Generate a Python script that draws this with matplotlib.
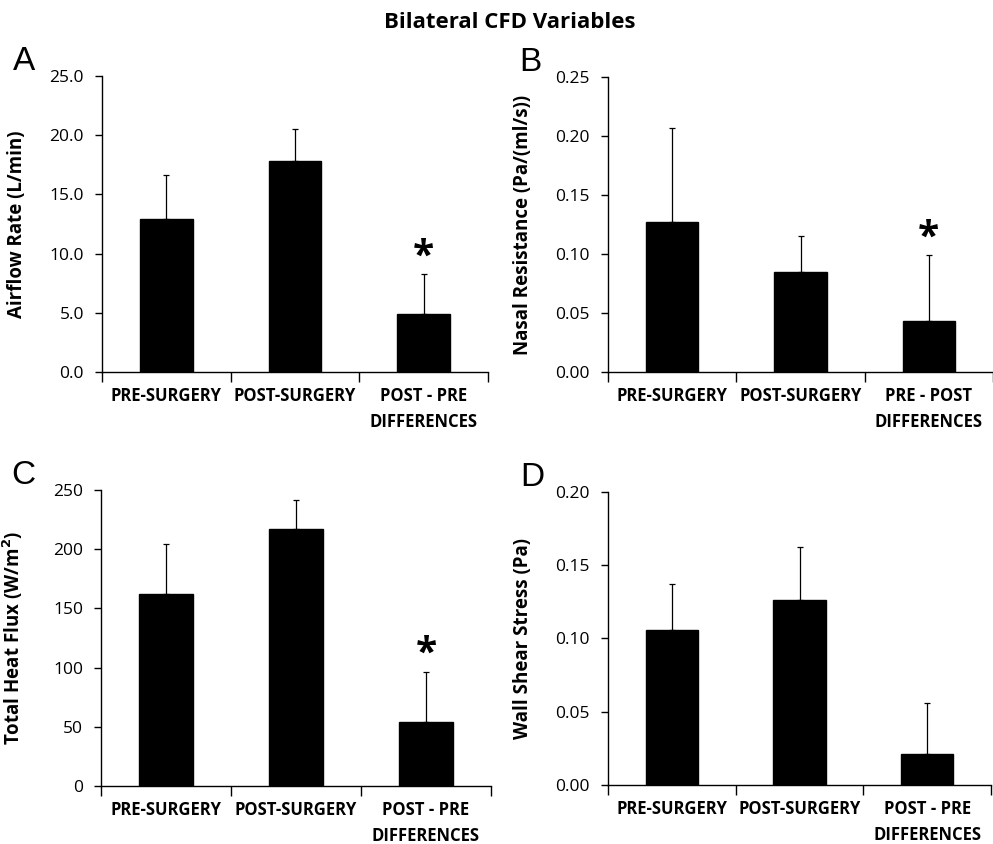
import numpy as np
import matplotlib
matplotlib.use("Agg")
import matplotlib.pyplot as plt
from matplotlib.ticker import FormatStrFormatter, FixedLocator

plt.rcParams['font.family'] = ['Open Sans', 'DejaVu Sans']

# values
cats_a = ["PRE-SURGERY", "POST-SURGERY", "POST - PRE\nDIFFERENCES"]
cats_b = ["PRE-SURGERY", "POST-SURGERY", "PRE - POST\nDIFFERENCES"]

airflow = [12.9, 17.85, 4.9]
airflow_err = [3.7, 2.65, 3.35]

resistance = [0.127, 0.0845, 0.043]
resistance_err = [0.080, 0.031, 0.056]

heatflux = [162.6, 217.0, 54.1]
heatflux_err = [41.5, 24.3, 42.3]

shear = [0.106, 0.1266, 0.0211]
shear_err = [0.0315, 0.036, 0.035]

# which bars get the significance star
stars_a = [False, False, True]
stars_b = [False, False, True]
stars_c = [False, False, True]
stars_d = [False, False, False]

fig = plt.figure(figsize=(9.93, 8.44), dpi=100)

panels = [
    # letter, rect, cats, vals, errs, stars, ylabel, ymax, ystep, fmt
    ("A", [0.1027, 0.5592, 0.3887, 0.3507], cats_a, airflow, airflow_err, stars_a,
     "Airflow Rate (L/min)", 25.0, 5.0, "%.1f"),
    ("B", [0.6123, 0.5592, 0.3877, 0.3495], cats_b, resistance, resistance_err, stars_b,
     "Nasal Resistance (Pa/(ml/s))", 0.25, 0.05, "%.2f"),
    ("C", [0.1017, 0.0687, 0.3927, 0.3507], cats_a, heatflux, heatflux_err, stars_c,
     "Total Heat Flux (W/m$^\\mathbf{2}$)", 250, 50, "%d"),
    ("D", [0.6123, 0.0699, 0.3857, 0.3472], cats_a, shear, shear_err, stars_d,
     "Wall Shear Stress (Pa)", 0.20, 0.05, "%.2f"),
]

for letter, rect, cats, vals, errs, stars, ylab, ymax, ystep, fmt in panels:
    ax = fig.add_axes(rect)
    x = np.arange(len(vals))
    ax.bar(x, vals, width=0.41, color='black', edgecolor='black', zorder=2)
    ax.errorbar(x, vals, yerr=[np.zeros(len(errs)), errs], fmt='none',
                ecolor='black', elinewidth=0.9, capsize=2.5, capthick=0.9, zorder=3)
    for xi, v, e, s in zip(x, vals, errs, stars):
        if s:
            ax.annotate("*", xy=(xi, v + e), xytext=(0, 5), textcoords='offset points',
                        ha='center', va='baseline', fontsize=28, fontweight='bold')

    ax.set_xlim(-0.5, len(vals) - 0.5)
    ax.set_ylim(0, ymax)
    ax.set_yticks(np.arange(0, ymax + ystep / 2, ystep))
    ax.yaxis.set_major_formatter(FormatStrFormatter(fmt))
    ax.tick_params(axis='y', direction='out', length=5, width=1, pad=8, labelsize=12.5)

    # category boundaries carry the ticks, labels sit on the minor positions
    ax.xaxis.set_major_locator(FixedLocator(np.arange(len(vals) + 1) - 0.5))
    ax.xaxis.set_minor_locator(FixedLocator(x))
    ax.set_xticklabels([])
    ax.set_xticklabels(cats, minor=True, fontweight='bold', fontsize=12, linespacing=1.55)
    ax.tick_params(axis='x', which='major', direction='out', length=7, width=1)
    ax.tick_params(axis='x', which='minor', length=0, pad=11)

    for sp in ['top', 'right']:
        ax.spines[sp].set_visible(False)
    for sp in ['left', 'bottom']:
        ax.spines[sp].set_linewidth(1)

    ax.set_ylabel(ylab, fontweight='bold', fontsize=13.5)
    ax.yaxis.set_label_coords(-0.195, 0.5)

    ax.text(-0.23, 1.022, letter, transform=ax.transAxes, fontsize=24,
            family='Liberation Sans', ha='left', va='baseline')

fig.text(0.513, 0.973, "Bilateral CFD Variables", ha='center', va='center',
         fontsize=16, fontweight='bold')

fig.savefig("out.png", dpi=100)
